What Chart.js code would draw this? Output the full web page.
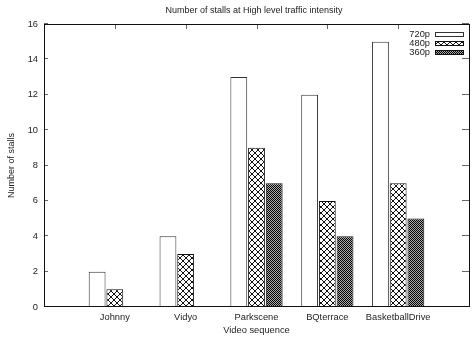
<!DOCTYPE html>
<html>
<head>
<meta charset="utf-8">
<script src="https://cdn.jsdelivr.net/npm/chart.js@4.4.0/dist/chart.umd.min.js"></script>
<style>
  html, body { margin: 0; padding: 0; overflow: hidden; background: #fff; width: 472px; height: 338px; }
  #wrap { width: 474px; height: 338px; }
</style>
</head>
<body>
<div id="wrap"><canvas id="c" width="474" height="338"></canvas></div>
<script>
// Stalls per video sequence, one array per resolution
const categories = ['Johnny', 'Vidyo', 'Parkscene', 'BQterrace', 'BasketballDrive'];
const stalls720p = [2, 4, 13, 12, 15];
const stalls480p = [1, 3, 9, 6, 7];
const stalls360p = [0, 0, 7, 4, 5];
const seriesNames = ['720p', '480p', '360p'];
const yTicks = [0, 2, 4, 6, 8, 10, 12, 14, 16];

const FONT = '"Liberation Sans", Arial, sans-serif';
const TEXT = '#222';

// Fill patterns in the style of gnuplot's monochrome fills
function makeTile(size, bg, paint) {
  const c = document.createElement('canvas');
  c.width = c.height = size;
  const g = c.getContext('2d');
  g.fillStyle = bg;
  g.fillRect(0, 0, size, size);
  paint(g);
  return c;
}
const canvas = document.getElementById('c');
const ctx0 = canvas.getContext('2d');
const hatchTile = makeTile(6, '#fff', g => {
  g.fillStyle = '#111';
  for (let i = 0; i < 6; i++) { g.fillRect(i, i, 1, 1); g.fillRect(5 - i, i, 1, 1); }
});
const dotTile = makeTile(2, '#a8a8a8', g => {
  g.fillStyle = '#000';
  g.fillRect(0, 0, 1, 1); g.fillRect(1, 1, 1, 1);
});
const hatch = ctx0.createPattern(hatchTile, 'repeat');
const dots = ctx0.createPattern(dotTile, 'repeat');
const fills = ['#ffffff', hatch, dots];
const edges = ['#333', '#111', '#111'];

// Blank end slots give the half-step margin on both sides of the x range
const labels = [''].concat(categories, ['']);
const pad = arr => [null].concat(arr, [null]);
const seriesValues = [stalls720p, stalls480p, stalls360p];

const frame = {
  id: 'frame',
  afterDatasetsDraw(chart) {
    const { ctx, chartArea: a, scales: { x, y } } = chart;
    const line = (x1, y1, x2, y2) => { ctx.beginPath(); ctx.moveTo(x1, y1); ctx.lineTo(x2, y2); ctx.stroke(); };
    ctx.save();
    ctx.lineWidth = 1;
    ctx.strokeStyle = '#666';
    yTicks.forEach(v => {
      const py = Math.round(y.getPixelForValue(v)) - 0.5;
      line(a.left, py, a.left + 4, py);
      line(a.right - 7, py, a.right, py);
    });
    categories.forEach((c, i) => {
      const px = Math.round(x.getPixelForValue(i + 1)) + 0.5;
      line(px, a.top, px, a.top + 5);
    });
    ctx.strokeStyle = '#111';
    ctx.strokeRect(a.left + 0.5, a.top + 0.5, a.right - a.left, a.bottom - a.top - 1);

    // title
    ctx.fillStyle = TEXT;
    ctx.font = '9px ' + FONT;
    ctx.textAlign = 'center';
    ctx.textBaseline = 'middle';
    ctx.fillText('Number of stalls at High level traffic intensity', 254, 11);

    // key: label then sample box, top right
    ctx.font = '9.3px ' + FONT;
    ctx.textAlign = 'right';
    seriesNames.forEach((name, i) => {
      const cy = 34.5 + i * 9.1;
      ctx.fillStyle = TEXT;
      ctx.fillText(name, 430, cy);
      ctx.fillStyle = fills[i];
      ctx.fillRect(435, Math.round(cy) - 2, 28, 4);
      ctx.strokeStyle = edges[i];
      ctx.strokeRect(435.5, Math.round(cy) - 2.5, 28, 4);
    });
    ctx.restore();
  }
};

new Chart(canvas, {
  type: 'bar',
  data: {
    labels: labels,
    datasets: seriesValues.map((vals, i) => ({
      label: seriesNames[i],
      data: pad(vals),
      backgroundColor: fills[i],
      borderColor: edges[i],
      borderWidth: 1,
      borderSkipped: false,
      categoryPercentage: 0.75,
      barPercentage: 0.95
    }))
  },
  options: {
    responsive: false,
    animation: false,
    events: [],
    layout: { padding: { left: 0, right: 1, top: 24, bottom: 0 } },
    plugins: { legend: { display: false }, title: { display: false }, tooltip: { enabled: false } },
    scales: {
      x: {
        type: 'category',
        offset: false,
        grid: { display: false, drawTicks: false },
        border: { display: false },
        ticks: { autoSkip: false, maxRotation: 0, padding: 5, color: TEXT, font: { family: FONT, size: 9.3 } },
        title: { display: true, text: 'Video sequence', color: TEXT, font: { family: FONT, size: 9.3 }, padding: { top: 0, bottom: 2 } },
        afterFit(s) { s.height = 31; }
      },
      y: {
        min: 0, max: 16,
        grid: { display: false, drawTicks: false },
        border: { display: false },
        afterBuildTicks(s) { s.ticks = yTicks.map(v => ({ value: v })); },
        ticks: { padding: 6, color: TEXT, font: { family: FONT, size: 9.3 } },
        title: { display: true, text: 'Number of stalls', color: TEXT, font: { family: FONT, size: 9 }, padding: { top: 6, bottom: 0 } },
        afterFit(s) { s.width = 44; }
      }
    }
  },
  plugins: [frame]
});
</script>
</body>
</html>
